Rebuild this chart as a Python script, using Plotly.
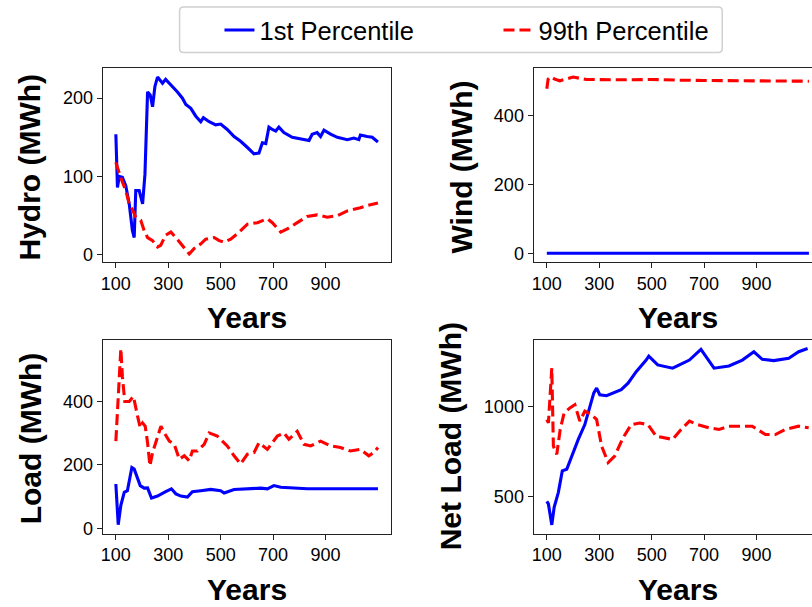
import plotly.graph_objects as go

# ---------------- data ----------------
hydro_p1_x = [100,106,113,125,138,151,163,170,176,189,202,211,221,231,240,249,259,278,290,310,335,354,367,386,405,424,434,456,481,500,525,551,576,602,627,646,659,672,684,697,710,722,741,773,805,837,849,868,881,894,919,945,983,1008,1027,1033,1059,1078,1100]
hydro_p1_y = [154,86,100,99,88,65,31,22,82,82,65,103,208,204,189,215,227,219,224,217,208,200,192,187,177,170,175,170,166,167,160,151,145,137,129,130,143,142,163,160,158,163,156,150,148,146,154,156,151,159,154,150,147,149,147,153,151,150,144]
hydro_p99_x = [100,119,138,151,163,176,195,208,221,240,259,271,290,310,329,348,373,380,399,424,443,475,494,513,538,564,602,640,678,697,729,754,792,830,868,906,945,983,1033,1059,1100]
hydro_p99_y = [118,98,82,65,58,48,44,31,22,18,10,12,25,29,22,14,3,1,8,14,20,22,18,16,20,27,39,41,46,41,29,33,41,49,51,48,50,56,60,63,66]

wind_p1_x = [100,1100]
wind_p1_y = [0,0]
wind_p99_x = [100,105,115,130,150,180,200,250,300,400,500,550,600,700,800,900,1000,1050,1100]
wind_p99_y = [477,505,512,505,500,508,511,504,503,503,504,504,502,501,501,501,500,500,499]

load_p1_x = [100,103,109,119,132,144,161,170,183,193,208,221,236,259,290,312,329,348,373,392,424,462,500,513,551,602,653,678,703,729,780,830,881,932,983,1033,1100]
load_p1_y = [140,83,12,73,114,119,192,187,156,135,127,128,96,102,116,125,109,102,99,116,119,123,119,112,123,125,127,125,135,130,127,125,125,125,123,123,125]
load_p99_x = [100,106,119,125,134,151,167,183,193,202,212,221,230,240,253,272,285,304,323,342,361,380,392,411,437,456,487,525,551,576,602,627,646,678,716,741,760,792,818,843,881,919,957,995,1033,1065,1084,1100]
load_p99_y = [275,364,566,478,400,400,416,353,317,332,322,270,197,239,270,322,301,275,265,218,229,213,244,244,265,301,291,260,229,203,234,239,270,249,291,301,281,306,265,260,275,260,255,244,249,229,239,255]

net_p1_x = [100,106,119,128,144,159,176,195,220,245,264,279,290,302,328,353,384,410,441,479,489,523,555,580,606,644,688,738,795,846,890,922,966,985,1023,1061,1095]
net_p1_y = [474,460,344,441,524,643,652,725,817,899,1000,1073,1101,1064,1059,1073,1092,1128,1192,1256,1278,1229,1220,1211,1229,1256,1315,1211,1223,1256,1302,1260,1253,1256,1266,1302,1320]
net_p99_x = [100,106,119,125,138,151,166,188,207,226,245,271,290,309,334,359,391,422,454,486,517,555,580,612,644,675,719,757,795,833,884,934,972,1010,1061,1099]
net_p99_y = [927,908,1211,780,734,872,963,991,1009,918,973,954,927,780,689,725,826,899,908,899,835,826,817,872,918,899,881,872,890,890,890,844,844,872,890,881]

x_ticks = [100, 300, 500, 700, 900]
panels = [
    ("Hydro (MWh)", hydro_p1_x, hydro_p1_y, hydro_p99_x, hydro_p99_y, [-9, 238], [0, 100, 200]),
    ("Wind (MWh)", wind_p1_x, wind_p1_y, wind_p99_x, wind_p99_y, [-25, 536], [0, 200, 400]),
    ("Load (MWh)", load_p1_x, load_p1_y, load_p99_x, load_p99_y, [-16, 593], [0, 200, 400]),
    ("Net Load (MWh)", net_p1_x, net_p1_y, net_p99_x, net_p99_y, [296, 1366], [500, 1000]),
]

# ---------------- layout ----------------
W, H = 830, 607
FONT = "Arial, 'Liberation Sans', sans-serif"
boxes = [  # left, right, top, bottom in pixels
    (101, 390, 69, 264),
    (533, 822, 69, 264),
    (101, 390, 343, 538),
    (533, 822, 343, 538),
]
ytitle_pos = [(28, 168), (461, 168), (28, 442), (449, 440)]

fig = go.Figure()
layout = dict(
    width=W, height=H, margin=dict(l=0, r=0, t=0, b=0),
    paper_bgcolor="white", plot_bgcolor="white",
    font=dict(family=FONT, color="black"),
    showlegend=True,
    legend=dict(orientation="h", x=218 / W, xanchor="left", y=1 - 7 / H, yanchor="top",
                borderwidth=0, bgcolor="rgba(0,0,0,0)",
                font=dict(size=25.5, family=FONT), entrywidth=234, entrywidthmode="pixels",
                tracegroupgap=0),
)
annotations = []
for i, (title, x1, y1, x99, y99, yr, yt) in enumerate(panels):
    l, r, t, b = boxes[i]
    n = "" if i == 0 else str(i + 1)
    xa, ya = "x" + n, "y" + n
    fig.add_trace(go.Scatter(x=x1, y=y1, mode="lines", name="1st Percentile",
                             line=dict(color="#0000ff", width=3.1), xaxis=xa, yaxis=ya,
                             showlegend=(i == 0)))
    fig.add_trace(go.Scatter(x=x99, y=y99, mode="lines", name="99th Percentile",
                             line=dict(color="#ff0000", width=3.1, dash="11px,5px"),
                             xaxis=xa, yaxis=ya, showlegend=(i == 0)))
    axstyle = dict(showgrid=False, zeroline=False, showline=True, linecolor="#222222",
                   linewidth=1.4, mirror=True, ticks="outside", ticklen=5, tickwidth=1.3,
                   tickcolor="#222222", tickfont=dict(size=18, family=FONT))
    layout["xaxis" + n] = dict(domain=[l / W, r / W], range=[50, 1150], tickvals=x_ticks,
                               anchor=ya, **axstyle)
    layout["yaxis" + n] = dict(domain=[1 - b / H, 1 - t / H], range=yr, tickvals=yt,
                               anchor=xa, **axstyle)
    annotations.append(dict(text="Years", x=(l + r) / 2 / W, y=1 - (b + 56) / H,
                            xref="paper", yref="paper", showarrow=False,
                            xanchor="center", yanchor="middle",
                            font=dict(size=30, family=FONT, weight="bold")))
    tx, ty = ytitle_pos[i]
    annotations.append(dict(text=title, x=tx / W, y=1 - ty / H,
                            xref="paper", yref="paper", showarrow=False, textangle=-90,
                            xanchor="center", yanchor="middle",
                            font=dict(size=30, family=FONT, weight="bold")))
layout["annotations"] = annotations

# rounded legend frame
L0, R0, T0, B0, rad = 178, 722, 7, 53, 4
path = (f"M {L0+rad},{T0} L {R0-rad},{T0} Q {R0},{T0} {R0},{T0+rad} L {R0},{B0-rad} "
        f"Q {R0},{B0} {R0-rad},{B0} L {L0+rad},{B0} Q {L0},{B0} {L0},{B0-rad} "
        f"L {L0},{T0+rad} Q {L0},{T0} {L0+rad},{T0} Z")
def px_path(p):
    out = []
    for tok in p.split():
        if "," in tok:
            a, b2 = tok.split(",")
            out.append(f"{float(a)/W:.5f},{1-float(b2)/H:.5f}")
        else:
            out.append(tok)
    return " ".join(out)
layout["shapes"] = [dict(type="path", path=px_path(path), xref="paper", yref="paper",
                         line=dict(color="#d0d0d0", width=1.5), fillcolor="rgba(0,0,0,0)",
                         layer="below")]
fig.update_layout(**layout)

fig.write_html("out.html", post_script=(
    "document.body.style.margin='0';document.body.style.overflow='hidden';"
    "document.documentElement.style.overflow='hidden';"))
